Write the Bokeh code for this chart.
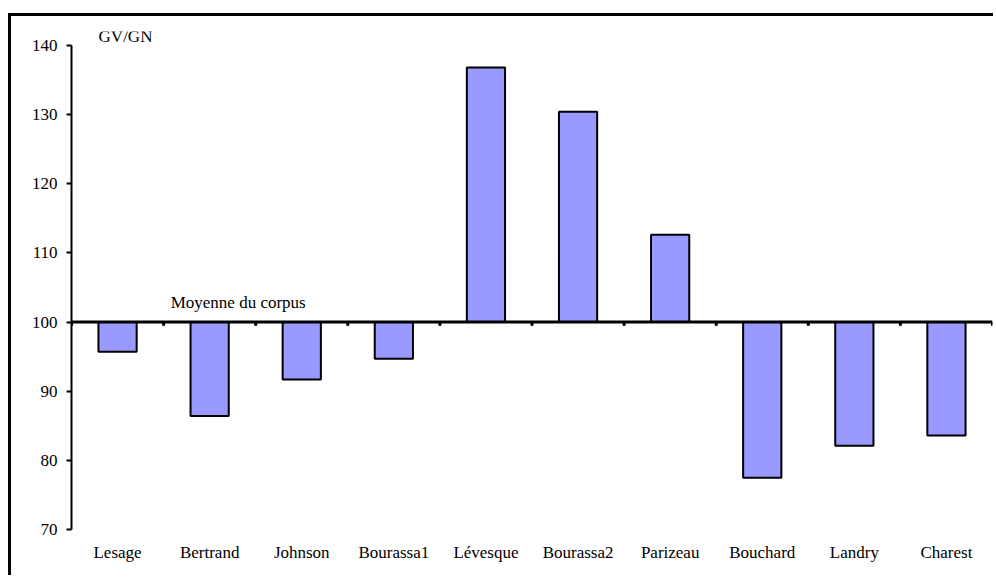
from bokeh.plotting import figure
from bokeh.models import Span, FixedTicker
from bokeh.core.properties import value
from bokeh.embed import file_html
from bokeh.resources import INLINE

# --- data ---
categories = ["Lesage", "Bertrand", "Johnson", "Bourassa1", "Lévesque",
              "Bourassa2", "Parizeau", "Bouchard", "Landry", "Charest"]
values = [95.7, 86.4, 91.7, 94.7, 136.8, 130.4, 112.6, 77.5, 82.1, 83.6]
y_ticks = [70, 80, 90, 100, 110, 120, 130, 140]
baseline = 100
y_title = "GV/GN"
baseline_label = "Moyenne du corpus"

FONT = "Liberation Serif"
FSIZE = "17px"
n = len(categories)
centers = [i + 0.5 for i in range(n)]
bounds_x = list(range(n + 1))

p = figure(width=985, height=562, output_backend="svg", toolbar_location=None,
           x_range=(0, n), y_range=(70, 142),
           min_border_left=60, min_border_right=4, min_border_top=15,
           min_border_bottom=49)
p.margin = (13, 0, 0, 8)
p.styles = {"border-top": "3px solid black", "border-left": "3px solid black"}
p.outline_line_color = None
p.grid.grid_line_color = None
p.background_fill_color = "white"
p.border_fill_color = "white"

# bars relative to the corpus mean
p.vbar(x=centers, bottom=baseline, top=values, width=0.415,
       fill_color="#9999FF", line_color="black", line_width=2)

# mean line (the category axis crossing at 100)
p.add_layout(Span(location=baseline, dimension="width", line_color="black", line_width=3))
p.segment(x0=bounds_x, y0=[baseline] * (n + 1), x1=bounds_x, y1=[baseline - 0.55] * (n + 1),
          line_color="black", line_width=3)

# left axis
ya = p.yaxis[0]
ya.ticker = FixedTicker(ticks=y_ticks)
ya.bounds = (70, 140)
ya.axis_line_width = 2
ya.major_tick_line_width = 2
ya.major_tick_out = 5
ya.major_tick_in = 0
ya.minor_tick_out = 0
ya.minor_tick_in = 0
ya.major_label_standoff = 9
ya.major_label_text_font = FONT
ya.major_label_text_font_size = FSIZE
ya.major_label_text_color = "black"

# bottom axis: only category labels
xa = p.xaxis[0]
xa.ticker = FixedTicker(ticks=centers)
xa.major_label_overrides = {c: name for c, name in zip(centers, categories)}
xa.axis_line_color = None
xa.major_tick_line_color = None
xa.minor_tick_line_color = None
xa.major_label_standoff = 7
xa.major_label_text_font = FONT
xa.major_label_text_font_size = FSIZE
xa.major_label_text_color = "black"

p.text(x=[0.294], y=[141.3], text=[y_title], text_font=value(FONT),
       text_font_size=FSIZE, text_baseline="middle", text_align="left", text_color="black")
p.text(x=[1.077], y=[102.8], text=[baseline_label], text_font=value(FONT),
       text_font_size=FSIZE, text_baseline="middle", text_align="left", text_color="black")

open("out.html", "w").write(file_html(p, INLINE))
